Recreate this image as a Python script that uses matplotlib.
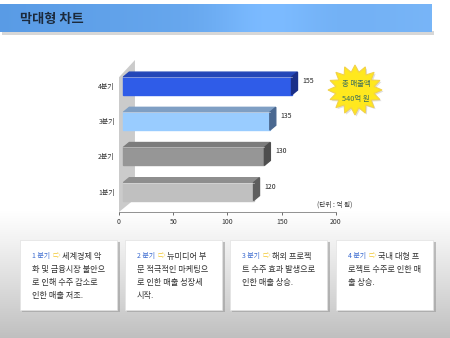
import numpy as np
import matplotlib.pyplot as plt
from matplotlib.patches import Rectangle, Polygon

plt.rcParams['font.family'] = ['Noto Sans CJK KR', 'DejaVu Sans']

# data
quarters = ['1분기', '2분기', '3분기', '4분기']
sales = [120, 130, 135, 155]
front_colors = ['#c0c0c0', '#969696', '#99ccff', '#2f5ce8']
top_colors = ['#8e8e8e', '#7c7c7c', '#7f9fc4', '#2346b8']
side_colors = ['#5e5e5e', '#4e4e4e', '#4a6890', '#1a2f88']
x_ticks = [0, 50, 100, 150, 200]
title = '막대형 차트'
star_lines = ['총 매출액', '540억 원']
unit_label = '(단위 : 억 원)'
box_heads = ['1 분기', '2 분기', '3 분기', '4 분기']
box_lines = [
    ['세계경제 악', '화 및 금융시장 불안으', '로 인해 수주 감소로', '인한 매출 저조.'],
    ['뉴미디어 부', '문 적극적인 마케팅으', '로 인한 매출 성장세', '시작.'],
    ['해외 프로젝', '트 수주 효과 발생으로', '인한 매출 상승.'],
    ['국내 대형 프', '로젝트 수주로 인한 매', '출 상승.'],
]

W, H = 450, 338
fig = plt.figure(figsize=(W / 100, H / 100), dpi=100)

# background (pixel coordinates)
bg = fig.add_axes([0, 0, 1, 1])
bg.set_xlim(0, W)
bg.set_ylim(H, 0)
bg.axis('off')
grad = np.ones((H, 1))
yy = np.arange(H)
grad[:, 0] = np.where(yy < 210, 1.0, 1.0 - 0.25 * ((yy - 210) / (H - 210)) ** 1.1)
bg.imshow(np.dstack([grad, grad, grad]), extent=[0, W, H, 0], aspect='auto', zorder=0)

# title band
bg.add_patch(Rectangle((2, 31), 432, 4, color='#b0b0b0', alpha=0.5, lw=0, zorder=1))
t = np.linspace(0, 1, 200)
c1 = np.array([0.35, 0.61, 0.90])
c2 = np.array([0.47, 0.71, 0.97])
band = c1[None, :] * (1 - t[:, None]) + c2[None, :] * t[:, None]
hl = np.exp(-((t - 0.62) / 0.12) ** 2)[:, None] * 0.06
band = np.clip(band + hl, 0, 1)
bg.imshow(band[None, :, :], extent=[0, 432, 32, 4], aspect='auto', zorder=2)
bg.text(20, 19, title, fontsize=9.5, fontweight='bold', color='#1c2a3c',
        va='center', ha='left', zorder=3)

# star burst
n = 16
ang = np.linspace(0, 2 * np.pi, 2 * n, endpoint=False) + np.pi / 2
rad = np.where(np.arange(2 * n) % 2 == 0, 1.0, 0.72)
sx = 355 + 27 * rad * np.cos(ang)
sy = 90 - 25 * rad * np.sin(ang)
bg.add_patch(Polygon(np.column_stack([sx + 1.5, sy + 1.5]), closed=True,
                     color='#c8c8c8', alpha=0.6, lw=0, zorder=3))
bg.add_patch(Polygon(np.column_stack([sx, sy]), closed=True, fc='#ffe81e',
                     ec='#f2d24a', lw=0.8, zorder=4))
bg.text(356, 84, star_lines[0], fontsize=5.3, color='#3c6e5c', ha='center', va='center', zorder=5)
bg.text(356, 99, star_lines[1], fontsize=5.3, color='#3c6e5c', ha='center', va='center', zorder=5)

# unit label
bg.text(317, 205, unit_label, fontsize=4.8, color='#333333', ha='left', va='center', zorder=5)

# bottom boxes
box_x = [20, 125, 230, 336]
for i in range(4):
    x0 = box_x[i]
    bg.add_patch(Rectangle((x0 + 1.5, 241.5), 98, 70, color='#9a9a9a', alpha=0.6, lw=0, zorder=3))
    bg.add_patch(Rectangle((x0, 240), 97, 70, fc='white', ec='#e2e2e2', lw=0.5, zorder=4))
    bg.text(x0 + 12, 256, box_heads[i], fontsize=5, color='#3a6ad0', ha='left', va='center', zorder=5)
    bg.text(x0 + 33, 256, '⇨', fontsize=5.5, color='#f2c830', ha='left', va='center', zorder=5)
    for j, line in enumerate(box_lines[i]):
        xt = x0 + 42 if j == 0 else x0 + 12
        bg.text(xt, 256 + 13.3 * j, line, fontsize=5.9, color='#333333', ha='left', va='center', zorder=5)

# chart axes
ax = fig.add_axes([119 / W, (H - 212) / H, 217 / W, 152 / H])
ax.patch.set_alpha(0)
ax.set_xlim(0, 200)
ax.set_ylim(-0.58, 3.74)
for s in ['top', 'right', 'left']:
    ax.spines[s].set_visible(False)
ax.spines['bottom'].set_color('#808080')
ax.spines['bottom'].set_linewidth(0.6)
ax.set_xticks(x_ticks)
ax.set_xticklabels([str(v) for v in x_ticks])
ax.tick_params(axis='x', labelsize=5, colors='#333333', length=2, width=0.5, pad=2)
ax.set_yticks(range(len(quarters)))
ax.set_yticklabels(quarters)
ax.tick_params(axis='y', labelsize=5, colors='#333333', length=0, pad=3)

# back wall
ax.add_patch(Polygon([(0, -0.58), (14.7, -0.21), (14.7, 3.74), (0, 3.25)], closed=True,
                     fc='#cbcbcb', ec='none', clip_on=False, zorder=1))

off, dx, dy, h = 4, 5.5, 0.14, 0.51
for i, v in enumerate(sales):
    y0, y1 = i - h / 2, i + h / 2
    x1 = off + v
    ax.fill([off, x1, x1, off], [y0, y0, y1, y1], color=front_colors[i], zorder=3, clip_on=False)
    ax.fill([off, x1, x1 + dx, off + dx], [y1, y1, y1 + dy, y1 + dy], color=top_colors[i],
            zorder=3, clip_on=False)
    ax.fill([x1, x1 + dx, x1 + dx, x1], [y0, y0 + dy, y1 + dy, y1], color=side_colors[i],
            zorder=3, clip_on=False)
    ax.plot([off, x1], [y1, y1], color='white', lw=0.5, alpha=0.6, zorder=4)
    ax.text(x1 + 10, i + 0.14, str(v), fontsize=5, color='#222222', ha='left', va='center')

fig.savefig('out.png', dpi=100)
